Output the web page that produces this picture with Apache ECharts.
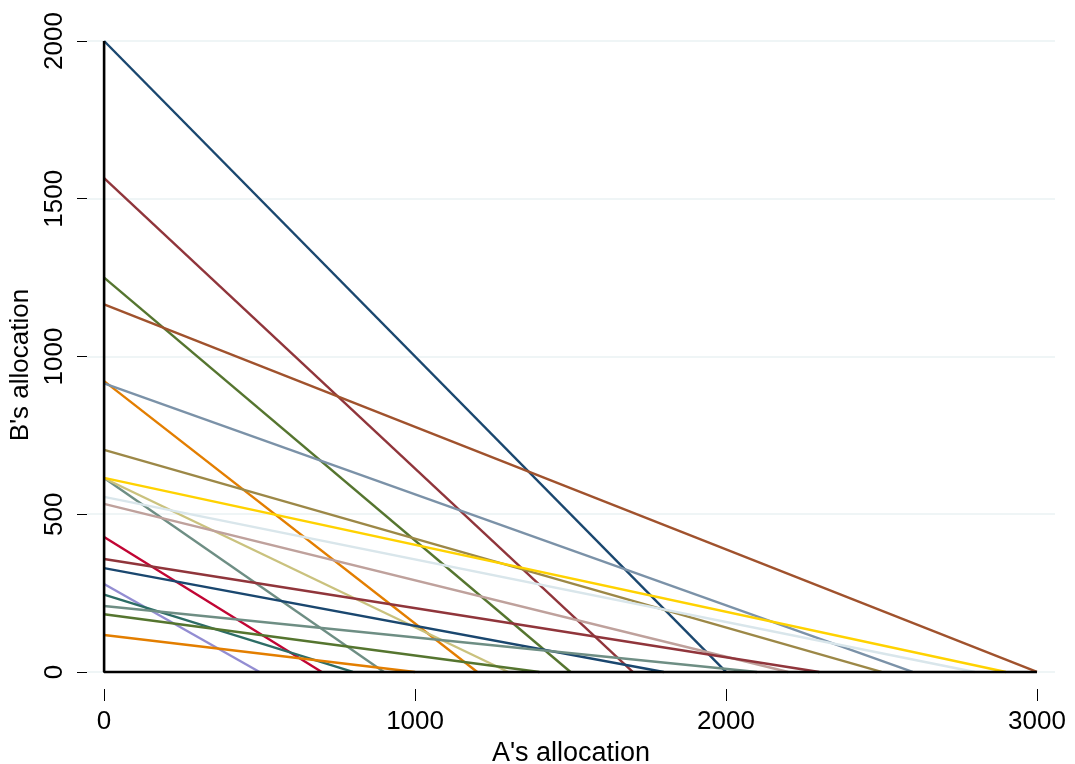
<!DOCTYPE html>
<html>
<head>
<meta charset="utf-8">
<script src="https://cdn.jsdelivr.net/npm/echarts@6/dist/echarts.min.js"></script>
<style>
  html, body { margin: 0; padding: 0; background: #fff; }
  #chart { width: 1075px; height: 764px; }
</style>
</head>
<body>
<div id="chart"></div>
<script>
// where each line meets the B axis (x = 0) and the A axis (y = 0)
var bIntercepts = [2000, 1565, 1250, 922, 615, 428, 279, 614, 1165, 915,
                   245, 704, 533, 615, 555, 329, 358, 183, 117, 209];
var aIntercepts = [2000, 1700, 1500, 1200, 900, 700, 500, 1300, 3000, 2600,
                   800, 2500, 2200, 2900, 2800, 1800, 2300, 1400, 1000, 2100];
var xTicks = [0, 1000, 2000, 3000];
var yTicks = [0, 500, 1000, 1500, 2000];

// stata s2color order
var palette = ['#1a476f', '#90353b', '#55752f', '#e37e00', '#6e8e84',
               '#c10534', '#938dd2', '#cac27e', '#a0522d', '#7b92a8',
               '#2d6d66', '#9c8847', '#bfa19c', '#ffd200', '#d9e6eb'];

var font = 'Liberation Sans, Arial, sans-serif';
var chart = echarts.init(document.getElementById('chart'));

var series = [];
for (var i = 0; i < bIntercepts.length; i++) {
  series.push({
    type: 'line',
    symbol: 'none',
    silent: true,
    animation: false,
    lineStyle: { color: palette[i % palette.length], width: 2.4 },
    data: [[0, bIntercepts[i]], [aIntercepts[i], 0]]
  });
}
// black axis lines drawn on top
series.push({
  type: 'line', symbol: 'none', silent: true, animation: false, z: 5,
  lineStyle: { color: '#000', width: 2.6 },
  data: [[0, yTicks[yTicks.length - 1]], [0, 0], [xTicks[xTicks.length - 1], 0]]
});

function plain(v) { return String(v); }

var option = {
  backgroundColor: '#fff',
  animation: false,
  grid: { left: 87, right: 20, top: 41, bottom: 75, containLabel: false, outerBoundsMode: 'none' },
  xAxis: {
    type: 'value',
    min: -55,
    max: 3058,
    name: "A's allocation",
    nameLocation: 'middle',
    nameGap: 46,
    nameTextStyle: { fontFamily: font, fontSize: 27, color: '#000' },
    axisLine: { show: false, onZero: false },
    axisTick: { show: true, customValues: xTicks, length: 12, lineStyle: { color: '#000', width: 1 } },
    axisLabel: { customValues: xTicks, formatter: plain, margin: 20, fontFamily: font, fontSize: 26, color: '#000' },
    splitLine: { show: false }
  },
  yAxis: {
    type: 'value',
    min: -54,
    max: 2000,
    name: "B's allocation",
    nameLocation: 'middle',
    nameGap: 50,
    nameTextStyle: { fontFamily: font, fontSize: 26, color: '#000' },
    axisLine: { show: false, onZero: false },
    axisTick: { show: true, customValues: yTicks, length: 10, lineStyle: { color: '#000', width: 1 } },
    axisLabel: { customValues: yTicks, formatter: plain, rotate: 90, margin: 19, fontFamily: font, fontSize: 26, color: '#000' },
    splitLine: { show: true, lineStyle: { color: '#eaf2f3', width: 1.5 } }
  },
  series: series
};
chart.setOption(option);
</script>
</body>
</html>
